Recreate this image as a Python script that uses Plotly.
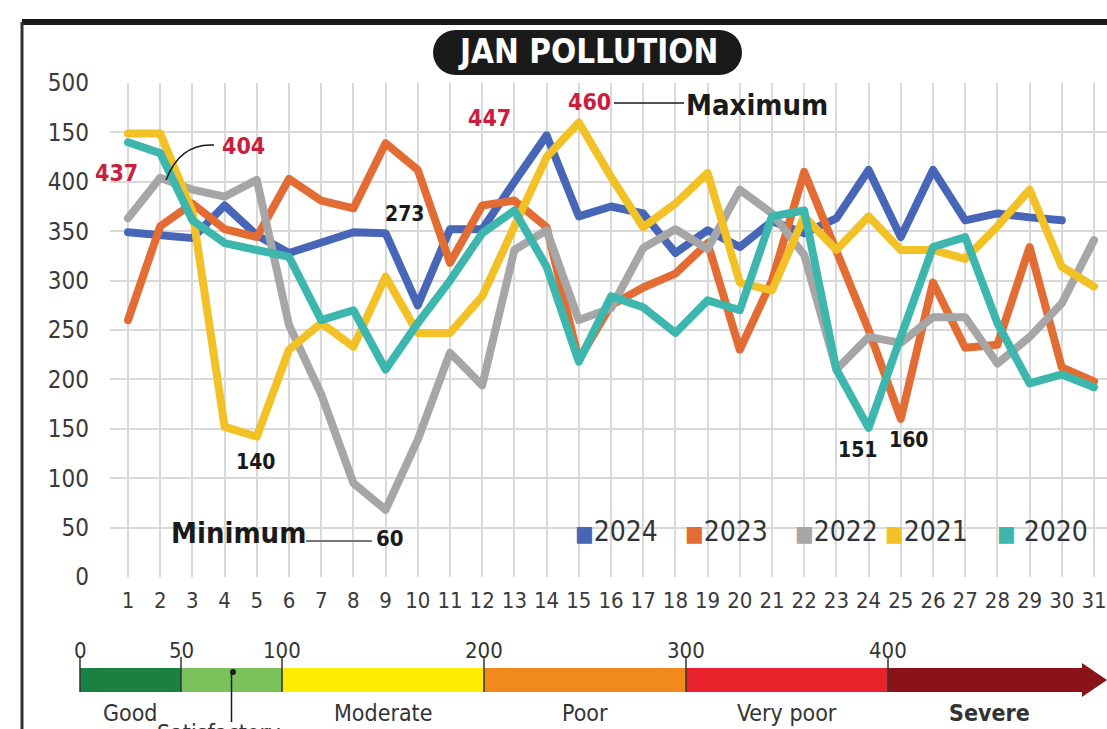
import plotly.graph_objects as go

# ---------------- data ----------------
days = list(range(1, 32))
y2024 = [349, 345, 343, 376, 346, 328, 339, 349, 348, 275, 352, 352, 400, 447, 365,
         375, 368, 328, 351, 334, 360, 348, 363, 412, 344, 412, 361, 368, 364, 361, None]
y2023 = [260, 355, 378, 352, 344, 403, 381, 373, 439, 412, 318, 376, 381, 354, 220,
         275, 293, 307, 338, 230, 300, 410, 330, 250, 160, 298, 232, 235, 334, 212, 198]
y2022 = [363, 404, 392, 385, 402, 255, 185, 95, 68, 139, 227, 194, 331, 351, 260,
         272, 333, 352, 332, 392, 368, 326, 210, 243, 237, 263, 263, 216, 243, 277, 341]
y2021 = [449, 449, 370, 152, 142, 230, 257, 233, 304, 247, 247, 284, 355, 425, 460,
         405, 354, 378, 409, 298, 290, 365, 331, 365, 331, 331, 322, 355, 392, 314, 294]
y2020 = [440, 429, 361, 338, 331, 324, 260, 270, 210, 257, 300, 348, 371, 314, 218,
         284, 273, 247, 280, 270, 365, 371, 210, 151, 243, 334, 344, 257, 196, 205, 192]

series_names = ["2024", "2023", "2022", "2021", "2020"]
series_values = [y2024, y2023, y2022, y2021, y2020]
series_colors = ["#4766b7", "#e36c34", "#a6a6a6", "#f2c125", "#3db7ad"]

y_tickvals = [0, 50, 100, 150, 200, 250, 300, 350, 400, 450, 500]
y_ticktext = ["0", "50", "100", "150", "200", "250", "300", "350", "400", "150", "500"]

aqi_breaks = [0, 50, 100, 200, 300, 400]
aqi_colors = ["#1b8142", "#7bc15c", "#ffec00", "#f28a1b", "#e8222b", "#8b1219"]
aqi_names = ["Good", "Moderate", "Poor", "Very poor", "Severe"]
aqi_name_pos = [25, 150, 250, 350, 450]

FONT = "Liberation Sans Narrow, DejaVu Sans Condensed, Arial Narrow, sans-serif"

# ---------------- layout geometry (pixels) ----------------
W, H = 1107, 729
L, R, T, B = 110, 1107, 83, 577


def px(x):
    return (x - L) / (R - L)


def py(y):
    return (B - y) / (B - T)


def aqi_x(v):
    return px(80 + 2.02 * v)


fig = go.Figure()
for name, vals, col in zip(series_names, series_values, series_colors):
    fig.add_trace(go.Scatter(x=days, y=vals, mode="lines", name=name,
                             line=dict(color=col, width=8), showlegend=False,
                             hoverinfo="x+y+name"))

shapes = []
annotations = []

# outer frame
shapes.append(dict(type="line", xref="paper", yref="paper", x0=px(22), x1=px(1107),
                   y0=py(22), y1=py(22), line=dict(color="#1a1a1a", width=6)))
shapes.append(dict(type="line", xref="paper", yref="paper", x0=px(22), x1=px(22),
                   y0=py(22), y1=py(729), line=dict(color="#333333", width=3)))

# title pill
shapes.append(dict(type="rect", xref="paper", yref="paper", x0=px(455), x1=px(720),
                   y0=py(75), y1=py(30), fillcolor="#1a1a1a", line=dict(width=0)))
shapes.append(dict(type="circle", xref="paper", yref="paper", x0=px(433), x1=px(478),
                   y0=py(75), y1=py(30), fillcolor="#1a1a1a", line=dict(width=0)))
shapes.append(dict(type="circle", xref="paper", yref="paper", x0=px(697), x1=px(742),
                   y0=py(75), y1=py(30), fillcolor="#1a1a1a", line=dict(width=0)))
annotations.append(dict(xref="paper", yref="paper", x=px(588), y=py(52), text="<b>JAN POLLUTION</b>",
                        showarrow=False, font=dict(family=FONT, size=33, color="white"),
                        xanchor="center", yanchor="middle"))


def lab(text, x, y, color="#1a1a1a", size=21, bold=True):
    t = f"<b>{text}</b>" if bold else text
    annotations.append(dict(xref="paper", yref="paper", x=px(x), y=py(y), text=t, showarrow=False,
                            font=dict(family=FONT, size=size, color=color),
                            xanchor="center", yanchor="middle"))


RED = "#c8203f"
lab("437", 116, 173, RED, 23)
lab("404", 243, 146, RED, 23)
lab("447", 489, 118, RED, 23)
lab("460", 589, 102, RED, 23)
lab("Maximum", 757, 105, "#1a1a1a", 29)
lab("273", 404, 214, "#1a1a1a", 21)
lab("140", 255, 462, "#1a1a1a", 21)
lab("151", 857, 450, "#1a1a1a", 21)
lab("160", 908, 440, "#1a1a1a", 21)
lab("Minimum", 238, 533, "#1a1a1a", 29)
lab("60", 390, 538, "#1a1a1a", 22)

# connector lines
shapes.append(dict(type="line", xref="paper", yref="paper", x0=px(614), x1=px(684),
                   y0=py(103), y1=py(103), line=dict(color="#1a1a1a", width=1.5)))
shapes.append(dict(type="line", xref="paper", yref="paper", x0=px(306), x1=px(372),
                   y0=py(541), y1=py(541), line=dict(color="#777777", width=2)))
shapes.append(dict(type="path", xref="paper", yref="paper",
                   path=f"M {px(214)},{py(145)} Q {px(180)},{py(143)} {px(166)},{py(180)}",
                   line=dict(color="#1a1a1a", width=1.5)))

# legend (text with coloured squares)
leg_x = [573, 683, 793, 883, 995]
for name, col, lx in zip(series_names, series_colors, leg_x):
    sep = " " if name == "2020" else ""
    annotations.append(dict(xref="paper", yref="paper", x=px(lx), y=py(531),
                            text=f"<span style='color:{col};font-size:22px'>■</span>{sep}{name}",
                            showarrow=False, font=dict(family=FONT, size=28, color="#333333"),
                            xanchor="left", yanchor="middle"))

# AQI scale bar
bar_top, bar_bot = 668, 692
edges = aqi_breaks + [497]
for i, col in enumerate(aqi_colors):
    shapes.append(dict(type="rect", xref="paper", yref="paper", x0=aqi_x(edges[i]), x1=aqi_x(edges[i + 1]),
                       y0=py(bar_bot), y1=py(bar_top), fillcolor=col, line=dict(width=0)))
shapes.append(dict(type="path", xref="paper", yref="paper",
                   path=f"M {aqi_x(496)},{py(663)} L {px(1107)},{py(680)} L {aqi_x(496)},{py(697)} Z",
                   fillcolor=aqi_colors[-1], line=dict(width=0)))
for v in aqi_breaks:
    shapes.append(dict(type="line", xref="paper", yref="paper", x0=aqi_x(v), x1=aqi_x(v),
                       y0=py(657), y1=py(bar_bot), line=dict(color="#333333", width=1.5)))
    annotations.append(dict(xref="paper", yref="paper", x=aqi_x(v), y=py(650), text=str(v),
                            showarrow=False, font=dict(family=FONT, size=22, color="#333333"),
                            xanchor="center", yanchor="middle"))
for name, v in zip(aqi_names, aqi_name_pos):
    t = f"<b>{name}</b>" if name == "Severe" else name
    annotations.append(dict(xref="paper", yref="paper", x=aqi_x(v), y=py(713), text=t,
                            showarrow=False, font=dict(family=FONT, size=23, color="#333333"),
                            xanchor="center", yanchor="middle"))
# Satisfactory pointer (label cut at the bottom edge, as in the source)
shapes.append(dict(type="line", xref="paper", yref="paper", x0=aqi_x(75), x1=aqi_x(75),
                   y0=py(672), y1=py(722), line=dict(color="#1a1a1a", width=1.5)))
shapes.append(dict(type="circle", xref="paper", yref="paper", x0=px(230), x1=px(236),
                   y0=py(675), y1=py(669), fillcolor="#1a1a1a", line=dict(width=0)))
annotations.append(dict(xref="paper", yref="paper", x=px(218), y=py(733), text="Satisfactory",
                        showarrow=False, font=dict(family=FONT, size=23, color="#333333"),
                        xanchor="center", yanchor="middle"))

fig.update_layout(
    width=W, height=H, autosize=False,
    margin=dict(l=L, r=W - R, t=T, b=H - B, pad=0),
    paper_bgcolor="white", plot_bgcolor="white",
    showlegend=False,
    shapes=shapes, annotations=annotations,
    xaxis=dict(range=[1 - 18 / 32.2, 31 + 13 / 32.2], tickmode="array", tickvals=days,
               ticktext=[str(d) for d in days], showgrid=True, gridcolor="#d9d9d9", gridwidth=1.5,
               zeroline=False, showline=False, ticks="", ticklabelstandoff=8,
               tickfont=dict(family=FONT, size=22, color="#3a3a3a"), fixedrange=True),
    yaxis=dict(range=[0, 500], tickmode="array", tickvals=y_tickvals, ticktext=y_ticktext,
               showgrid=True, gridcolor="#d9d9d9", gridwidth=1.5, zeroline=False, showline=False,
               ticks="", ticklabelstandoff=20,
               tickfont=dict(family=FONT, size=24, color="#3a3a3a"), fixedrange=True),
)

post = """
document.body.style.margin = '0';
document.body.style.overflow = 'hidden';
document.querySelectorAll('.scatterlayer path.js-line').forEach(function(p){
  p.style.strokeLinejoin = 'round'; p.style.strokeLinecap = 'round';
});
"""

fig.write_html("out.html", post_script=post, config={"displayModeBar": False})
